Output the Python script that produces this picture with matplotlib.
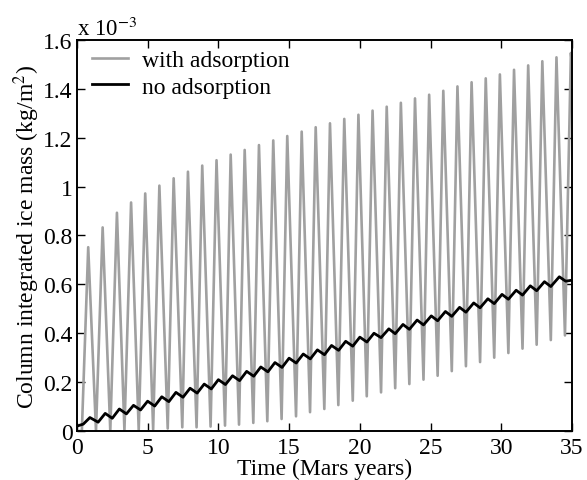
import matplotlib
matplotlib.use("Agg")
import matplotlib.pyplot as plt
from matplotlib.ticker import FuncFormatter

plt.rcParams['font.family'] = ['Liberation Serif', 'DejaVu Serif']
plt.rcParams['mathtext.fontset'] = 'stix'

# values in units of 1e-3 kg/m^2, time in Mars years
# "with adsorption": alternating troughs and peaks (time, value)
gray_t = [0.0, 0.35, 0.80, 1.35, 1.82, 2.36, 2.83, 3.36, 3.83, 4.37, 4.83,
          5.39, 5.83, 6.42, 6.84, 7.45, 7.85, 8.46, 8.86, 9.45, 9.87,
          10.47, 10.87, 11.46, 11.86, 12.47, 12.87, 13.46, 13.88, 14.47, 14.87,
          15.49, 15.89, 16.48, 16.88, 17.49, 17.89, 18.48, 18.90, 19.50, 19.90,
          20.49, 20.90, 21.50, 21.90, 22.50, 22.90, 23.50, 23.90, 24.50, 24.90,
          25.50, 25.90, 26.50, 26.90, 27.50, 27.90, 28.50, 28.90, 29.50, 29.90,
          30.50, 30.90, 31.50, 31.90, 32.50, 32.90, 33.50, 33.90, 34.50, 34.92, 35.0]
gray_v = [0.0, 0.0, 0.752, 0.0, 0.833, 0.0, 0.893, 0.002, 0.935, 0.004, 0.972,
          0.006, 1.004, 0.010, 1.034, 0.015, 1.061, 0.015, 1.086, 0.018, 1.108,
          0.022, 1.131, 0.026, 1.150, 0.033, 1.170, 0.040, 1.189, 0.049, 1.207,
          0.060, 1.225, 0.077, 1.243, 0.090, 1.259, 0.106, 1.277, 0.124, 1.294,
          0.142, 1.311, 0.158, 1.327, 0.175, 1.343, 0.192, 1.361, 0.210, 1.376,
          0.226, 1.392, 0.245, 1.410, 0.265, 1.427, 0.282, 1.443, 0.300, 1.459,
          0.319, 1.478, 0.337, 1.496, 0.353, 1.513, 0.372, 1.529, 0.391, 1.547, 1.50]

# "no adsorption": alternating local minima and maxima (time, value)
black_t = [0.0, 0.45, 0.92, 1.5, 2.0, 2.5, 3.0, 3.5, 4.0, 4.5, 5.0, 5.5, 6.0,
           6.5, 7.0, 7.5, 8.0, 8.5, 9.0, 9.5, 10.0, 10.5, 11.0, 11.5, 12.0,
           12.5, 13.0, 13.5, 14.0, 14.5, 15.0, 15.5, 16.0, 16.5, 17.0, 17.5, 18.0,
           18.5, 19.0, 19.5, 20.0, 20.5, 21.0, 21.5, 22.05, 22.5, 23.05, 23.5, 24.05,
           24.5, 25.05, 25.5, 26.05, 26.5, 27.05, 27.5, 28.05, 28.5, 29.05, 29.5, 30.05,
           30.5, 31.05, 31.5, 32.05, 32.5, 33.05, 33.5, 34.1, 34.55, 35.0]
black_v = [0.020, 0.028, 0.055, 0.036, 0.072, 0.052, 0.090, 0.070, 0.105, 0.086, 0.122, 0.102, 0.140,
           0.120, 0.158, 0.138, 0.175, 0.155, 0.192, 0.172, 0.210, 0.190, 0.226, 0.206, 0.244,
           0.224, 0.262, 0.242, 0.280, 0.260, 0.298, 0.278, 0.315, 0.295, 0.332, 0.312, 0.350,
           0.330, 0.367, 0.347, 0.384, 0.364, 0.400, 0.382, 0.418, 0.398, 0.436, 0.416, 0.454,
           0.434, 0.471, 0.451, 0.489, 0.469, 0.506, 0.486, 0.524, 0.504, 0.541, 0.521, 0.559,
           0.539, 0.576, 0.556, 0.594, 0.574, 0.611, 0.591, 0.631, 0.613, 0.617]

xticks = [0, 5, 10, 15, 20, 25, 30, 35]
yticks = [0, 0.2, 0.4, 0.6, 0.8, 1.0, 1.2, 1.4, 1.6]

FS = 17

fig = plt.figure(figsize=(5.87, 4.81), dpi=100)
ax = fig.add_axes([0.131, 0.1019, 0.8435, 0.8129])

ax.plot(gray_t, gray_v, color='#a0a0a0', lw=1.9, label='with adsorption', solid_joinstyle='round')
ax.plot(black_t, black_v, color='black', lw=2.0, label='no adsorption', solid_joinstyle='round')

ax.set_xlim(0, 35)
ax.set_ylim(0, 1.6)
ax.set_xticks(xticks)
ax.set_yticks(yticks)
ax.yaxis.set_major_formatter(FuncFormatter(lambda v, p: '%g' % round(v, 3)))
ax.tick_params(direction='in', top=True, right=True, labelsize=FS, length=6, width=1.0, pad=3)
ax.tick_params(axis='x', pad=4)
for s in ax.spines.values():
    s.set_linewidth(1.4)

ax.set_xlabel('Time (Mars years)', fontsize=FS, labelpad=0)
ax.set_ylabel('Column integrated ice mass (kg/m$^2$)', fontsize=FS, labelpad=1)

fig.text(0.131, 0.925, r'x 10$^{-3}$', fontsize=FS - 0.5, ha='left', va='baseline')

leg = ax.legend(loc='upper left', frameon=False, fontsize=FS, handlelength=1.5,
                handletextpad=0.6, borderaxespad=0.0, labelspacing=0.22,
                bbox_to_anchor=(0.012, 1.0))

fig.savefig('out.png', dpi=100)
